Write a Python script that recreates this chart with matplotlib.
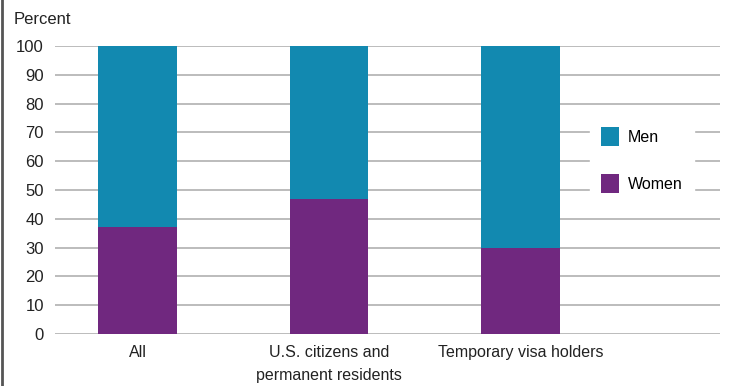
import matplotlib.pyplot as plt
from matplotlib.lines import Line2D
import numpy as np

categories = ['All', 'U.S. citizens and\npermanent residents', 'Temporary visa holders']
women = [37, 47, 30]
men = [63, 53, 70]
yticks = [0, 10, 20, 30, 40, 50, 60, 70, 80, 90, 100]

men_color = '#1289b0'
women_color = '#70287f'

plt.rcParams['font.family'] = ['Liberation Sans', 'DejaVu Sans']

fig = plt.figure(figsize=(7.29, 3.86), dpi=100)
ax = fig.add_axes([55 / 729, 1 - 334 / 386, 665 / 729, 288 / 386])

x = np.arange(len(categories))
width = 0.41
ax.bar(x, women, width, color=women_color, label='Women', zorder=3)
ax.bar(x, men, width, bottom=women, color=men_color, label='Men', zorder=3)

ax.set_ylim(0, 100)
ax.set_xlim(-0.431, 3.04)
ax.set_yticks(yticks)
ax.set_yticklabels([str(t) for t in yticks], fontsize=12, color='#222222')
ax.set_xticks(x)
ax.set_xticklabels(categories, fontsize=11.5, color='#222222', linespacing=1.65)
ax.tick_params(axis='both', length=0)
ax.tick_params(axis='y', pad=8)
ax.tick_params(axis='x', pad=8)
ax.yaxis.grid(True, color='#aaaaaa', linewidth=1.1, zorder=0)
ax.set_axisbelow(True)
for s in ax.spines.values():
    s.set_visible(False)

fig.text(14 / 729, 1 - 19 / 386, 'Percent', fontsize=12, color='#222222', va='center', ha='left')

handles, labels = ax.get_legend_handles_labels()
leg = ax.legend(handles[::-1], labels[::-1], loc='center', bbox_to_anchor=(642 / 729, 1 - 160 / 386),
                bbox_transform=fig.transFigure, frameon=True, fontsize=11.5, handlelength=1.1,
                handleheight=1.5, labelspacing=1.7, handletextpad=0.55, borderpad=0.7)
leg.get_frame().set_facecolor('white')
leg.get_frame().set_edgecolor('white')
leg.get_frame().set_alpha(1)

fig.add_artist(Line2D([2 / 729, 2 / 729], [0, 1], color='#555555', linewidth=2, transform=fig.transFigure))

fig.savefig('out.png', dpi=100)
